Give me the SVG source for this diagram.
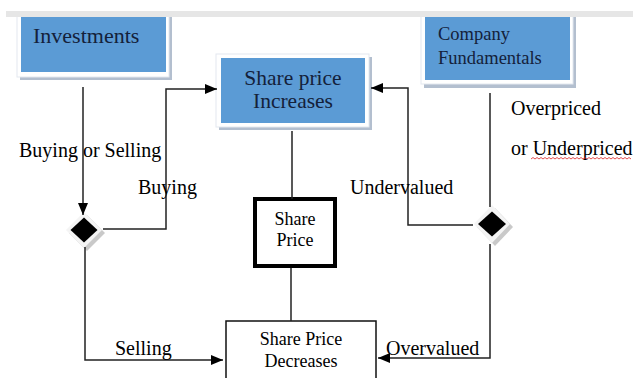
<svg xmlns="http://www.w3.org/2000/svg" width="633" height="378" viewBox="0 0 633 378">
<defs>
<marker id="ah" markerUnits="userSpaceOnUse" markerWidth="13" markerHeight="11" refX="12" refY="5" orient="auto">
<path d="M0,0 L12,5 L0,10 z" fill="#000"/>
</marker>
<style>
.sh{fill:#b3bfcf}
.fr{fill:#fff;stroke:#e3e8ef;stroke-width:1}
.bl{fill:#5b9bd5}
.t{font-family:"Liberation Serif","Times New Roman",serif;fill:#000}
.bt{font-family:"Liberation Serif","Times New Roman",serif;fill:#14213a}
.ln{fill:none;stroke:#222;stroke-width:1.5}
.dsh{fill:#c9c9c9}
.dfr{fill:#f4f4f4}
</style>
</defs>
<rect width="633" height="378" fill="#fff"/>
<g id="investments">
<rect class="sh" x="20" y="16" width="152" height="64"/>
<rect class="fr" x="17" y="13" width="152" height="64"/>
<rect class="bl" x="21" y="17" width="145" height="55"/>
<text class="bt" x="33" y="43" font-size="22">Investments</text>
</g>
<g id="increase">
<rect class="sh" x="219" y="57" width="153" height="73"/>
<rect class="fr" x="216" y="54" width="153" height="73"/>
<rect class="bl" x="221" y="58" width="144" height="65"/>
<text class="bt" x="293" y="85" font-size="21.5" text-anchor="middle">Share price</text>
<text class="bt" x="293" y="108" font-size="21.5" text-anchor="middle">Increases</text>
</g>
<g id="fundamentals">
<rect class="sh" x="424" y="16" width="152" height="72"/>
<rect class="fr" x="421" y="13" width="152" height="71"/>
<rect class="bl" x="425" y="17" width="145" height="63"/>
<text class="bt" x="438" y="40" font-size="18.5">Company</text>
<text class="bt" x="438" y="64" font-size="18.5">Fundamentals</text>
</g>
<rect x="6" y="11" width="627" height="6" fill="#e6e6e6"/>
<g id="shareprice">
<rect x="255" y="199" width="80" height="67" fill="#fff" stroke="#000" stroke-width="4"/>
<text class="t" x="295" y="225" font-size="18" text-anchor="middle">Share</text>
<text class="t" x="295" y="246" font-size="18" text-anchor="middle">Price</text>
</g>
<g id="decrease">
<rect x="226" y="321" width="150" height="70" fill="#fff" stroke="#111" stroke-width="1.5"/>
<text class="t" x="301" y="345" font-size="18" text-anchor="middle">Share Price</text>
<text class="t" x="301" y="367" font-size="18" text-anchor="middle">Decreases</text>
</g>
<g id="decision-left">
<path class="dsh" d="M87,215 L105,233 L87,251 L69,233 z"/>
<path class="dfr" d="M84,212 L102,230 L84,248 L66,230 z"/>
<path d="M84,217.5 L97.5,230 L84,242.5 L70.5,230 z" fill="#000"/>
</g>
<g id="decision-right">
<path class="dsh" d="M495,208 L513,227 L495,246 L477,227 z"/>
<path class="dfr" d="M492,205 L510,224 L492,243 L474,224 z"/>
<path d="M492,211.5 L506,224 L492,236.5 L478,224 z" fill="#000"/>
</g>
<g id="connectors">
<path class="ln" d="M83,87 V215" marker-end="url(#ah)"/>
<path class="ln" d="M103,229 H166 V89 H217" marker-end="url(#ah)"/>
<path class="ln" d="M85,247 V360 H223" marker-end="url(#ah)"/>
<path class="ln" d="M292,131 V199"/>
<path class="ln" d="M291,268 V321"/>
<path class="ln" d="M490,93 V207"/>
<path class="ln" d="M473,225 H408 V88 H371" marker-end="url(#ah)"/>
<path class="ln" d="M490,244 V358 H378" marker-end="url(#ah)"/>
</g>
<g id="labels">
<text class="t" x="19" y="157" font-size="20">Buying or Selling</text>
<text class="t" x="138" y="194" font-size="20">Buying</text>
<text class="t" x="350" y="194" font-size="20">Undervalued</text>
<text class="t" x="115" y="355" font-size="20">Selling</text>
<text class="t" x="386" y="355" font-size="20">Overvalued</text>
<text class="t" x="511" y="115" font-size="20">Overpriced</text>
<text class="t" x="511" y="155" font-size="20">or Underpriced</text>
<path d="M531,159 l2,-1.5 l2,1.5 l2,-1.5 l2,1.5 l2,-1.5 l2,1.5 l2,-1.5 l2,1.5 l2,-1.5 l2,1.5 l2,-1.5 l2,1.5 l2,-1.5 l2,1.5 l2,-1.5 l2,1.5 l2,-1.5 l2,1.5 l2,-1.5 l2,1.5 l2,-1.5 l2,1.5 l2,-1.5 l2,1.5 l2,-1.5 l2,1.5 l2,-1.5 l2,1.5 l2,-1.5 l2,1.5 l2,-1.5 l2,1.5 l2,-1.5 l2,1.5 l2,-1.5 l2,1.5 l2,-1.5 l2,1.5 l2,-1.5 l2,1.5 l2,-1.5 l2,1.5 l2,-1.5 l2,1.5 l2,-1.5 l2,1.5 l2,-1.5 l2,1.5 l2,-1.5 l2,1.5" fill="none" stroke="#d22" stroke-width="0.8"/>
</g>
</svg>
